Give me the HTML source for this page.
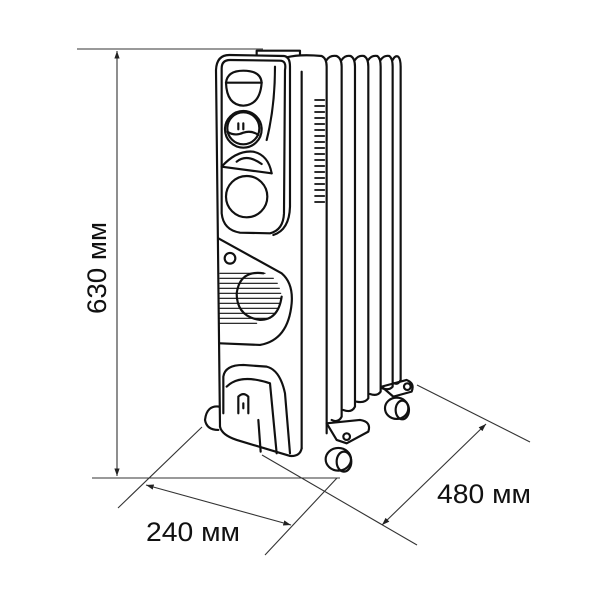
<!DOCTYPE html>
<html><head><meta charset="utf-8"><style>
html,body{margin:0;padding:0;background:#fff;width:600px;height:600px;overflow:hidden}
svg{display:block}
text{font-family:"Liberation Sans",sans-serif;font-size:27px;fill:#111}
</style></head><body>
<svg width="600" height="600" viewBox="0 0 600 600" xmlns="http://www.w3.org/2000/svg">
<defs>
<marker id="a" viewBox="0 0 10 10" refX="10" refY="5" markerWidth="7" markerHeight="7" orient="auto-start-reverse"><path d="M0,1.5 L10,5 L0,8.5 Z" fill="#222"/></marker>
</defs>
<g stroke="#333" stroke-width="1.1" fill="none">
<line x1="77" y1="49" x2="263" y2="49"/>
<line x1="92" y1="478" x2="340" y2="478"/>
<line x1="117" y1="51" x2="117" y2="476" marker-start="url(#a)" marker-end="url(#a)"/>
<line x1="202" y1="427" x2="118" y2="508"/>
<line x1="337" y1="478" x2="265" y2="555"/>
<line x1="146" y1="485" x2="291" y2="525" marker-start="url(#a)" marker-end="url(#a)"/>
<line x1="262" y1="455" x2="417" y2="545"/>
<line x1="417" y1="385" x2="530" y2="442"/>
<line x1="486" y1="424" x2="382" y2="525" marker-start="url(#a)" marker-end="url(#a)"/>
</g>
<text x="146" y="541" textLength="94" lengthAdjust="spacingAndGlyphs">240 мм</text>
<text x="437" y="503" textLength="94" lengthAdjust="spacingAndGlyphs">480 мм</text>
<text transform="translate(106,268) rotate(-90)" text-anchor="middle" textLength="92" lengthAdjust="spacingAndGlyphs">630 мм</text>
<g transform="translate(190,40) scale(0.3333)" stroke="#111" stroke-width="6.5" fill="none" stroke-linecap="round" stroke-linejoin="round">
<path d="M200 45 L200 32 L330 32 L330 45"/>
<path d="M410 60 Q420 45 440 48 Q455 55 455 80 L455 1130 Q445 1150 425 1140"/>
<path d="M455 60 Q465 45 482 48 Q495 55 495 80 L495 1100 Q485 1120 460 1110"/>
<path d="M495 60 Q505 45 522 48 Q535 55 535 80 L535 1075 Q525 1090 500 1085"/>
<path d="M535 60 Q545 45 562 48 Q572 55 572 80 L572 1055 Q562 1070 540 1062"/>
<path d="M572 60 Q582 45 598 48 Q608 55 608 80 L608 1040 Q598 1052 577 1045"/>
<path d="M608 60 Q615 45 625 50 Q632 58 632 80 L632 1020 Q625 1035 612 1030"/>
<path d="M290 52 Q330 42 395 48 Q410 55 410 80 L410 1180"/>
<line x1="335" y1="95" x2="335" y2="1225"/>
<path d="M90 1160 L78 90 Q80 45 118 45 L282 48 Q300 50 300 80 L300 500 Q298 570 250 585"/>
<path d="M90 1160 Q95 1185 140 1200 L300 1248 Q330 1250 335 1225"/>
<path d="M95 85 Q95 60 120 60 L270 62 Q290 62 285 90 L282 520 Q280 570 240 580 L150 578 Q100 570 95 520 Z"/>
<path d="M255 80 Q255 200 230 300"/>
<path d="M108 128 L215 128 Q210 195 160 197 Q110 195 108 128 Z"/>
<path d="M108 128 Q112 92 160 92 Q212 92 215 128"/>
<circle cx="160" cy="265" r="48"/>
<circle cx="160" cy="268" r="55"/>
<line x1="145" y1="250" x2="145" y2="268"/>
<line x1="160" y1="250" x2="160" y2="268"/>
<path d="M112 275 Q135 290 160 278 Q185 270 205 285"/>
<path d="M95 380 Q140 330 190 335 Q235 345 245 400"/>
<path d="M95 380 L245 400"/>
<path d="M140 365 Q170 340 215 372"/>
<circle cx="170" cy="470" r="62"/>
<path d="M85 595 L275 700 Q310 730 305 790 Q295 900 210 915 L90 910"/>
<circle cx="120" cy="655" r="16"/>
<path d="M220 700 Q150 690 140 760 Q140 830 210 840 Q265 840 275 770"/>
<g stroke-width="3.5">
<line x1="90" y1="700" x2="225" y2="700"/><line x1="90" y1="715" x2="250" y2="715"/>
<line x1="90" y1="730" x2="262" y2="730"/><line x1="90" y1="745" x2="268" y2="745"/>
<line x1="90" y1="760" x2="272" y2="760"/><line x1="90" y1="775" x2="272" y2="775"/>
<line x1="90" y1="790" x2="270" y2="790"/><line x1="90" y1="805" x2="265" y2="805"/>
<line x1="90" y1="820" x2="255" y2="820"/><line x1="90" y1="835" x2="240" y2="835"/>
<line x1="90" y1="850" x2="200" y2="850"/>
</g>
<path d="M100 1120 L100 1010 Q105 975 160 975 L230 980 Q270 990 285 1060 L300 1240"/>
<path d="M110 1040 Q150 1000 240 1030 L260 1240"/>
<path d="M145 1070 L145 1120 M145 1070 Q160 1055 175 1070 L175 1120 M160 1090 L160 1105"/>
<line x1="205" y1="1140" x2="212" y2="1235"/>
<g stroke-width="5">
<line x1="375" y1="180" x2="403" y2="180"/><line x1="375" y1="198" x2="403" y2="198"/>
<line x1="375" y1="216" x2="403" y2="216"/><line x1="375" y1="234" x2="403" y2="234"/>
<line x1="375" y1="252" x2="403" y2="252"/><line x1="375" y1="270" x2="403" y2="270"/>
<line x1="375" y1="288" x2="403" y2="288"/><line x1="375" y1="306" x2="403" y2="306"/>
<line x1="375" y1="324" x2="403" y2="324"/><line x1="375" y1="342" x2="403" y2="342"/>
<line x1="375" y1="360" x2="403" y2="360"/><line x1="375" y1="378" x2="403" y2="378"/>
<line x1="375" y1="396" x2="403" y2="396"/><line x1="375" y1="414" x2="403" y2="414"/>
<line x1="375" y1="432" x2="403" y2="432"/><line x1="375" y1="450" x2="403" y2="450"/>
<line x1="375" y1="468" x2="403" y2="468"/><line x1="375" y1="486" x2="403" y2="486"/>
</g>
<path d="M88 1100 Q50 1095 45 1140 Q50 1170 85 1170"/>
<path d="M410 1150 L510 1140 Q545 1145 535 1175 L470 1210 L440 1200 Z"/>
<circle cx="470" cy="1190" r="10"/>
<ellipse cx="445" cy="1258" rx="38" ry="34"/>
<ellipse cx="462" cy="1265" rx="22" ry="30"/>
<path d="M575 1040 L650 1020 Q675 1030 665 1055 L610 1070 Z"/>
<circle cx="652" cy="1040" r="10"/>
<ellipse cx="620" cy="1105" rx="35" ry="32"/>
<ellipse cx="637" cy="1110" rx="20" ry="28"/>
</g>
</svg>
</body></html>
